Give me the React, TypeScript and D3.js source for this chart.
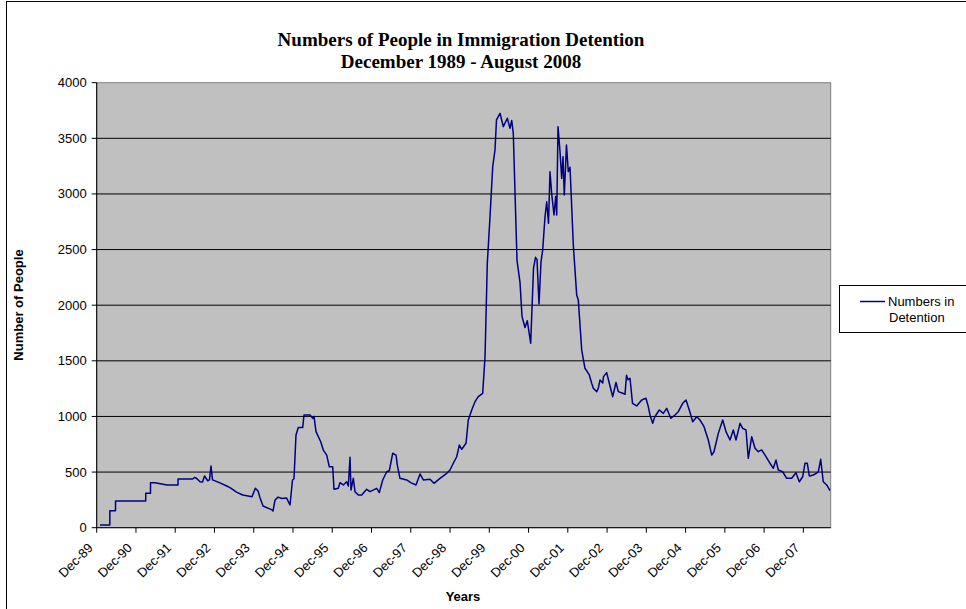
import * as d3 from 'd3';

// Weekly-ish detention counts (decimal year, people)
const years = [
  1990.001, 1990.251, 1990.252, 1990.396, 1990.397, 1991.165, 1991.166, 1991.287, 1991.288, 1991.402,
  1991.708, 1991.988, 1991.989, 1992.362, 1992.413, 1992.472, 1992.548, 1992.612, 1992.663, 1992.744,
  1992.790, 1992.828, 1992.867, 1993.040, 1993.228, 1993.312, 1993.478, 1993.636, 1993.873, 1993.957,
  1994.026, 1994.076, 1994.153, 1994.382, 1994.408, 1994.459, 1994.535, 1994.637, 1994.751, 1994.841,
  1994.904, 1994.942, 1994.993, 1995.052, 1995.164, 1995.197, 1995.350, 1995.419, 1995.452, 1995.503,
  1995.623, 1995.689, 1995.775, 1995.842, 1995.928, 1995.961, 1996.071, 1996.114, 1996.198, 1996.285,
  1996.326, 1996.369, 1996.394, 1996.453, 1996.496, 1996.580, 1996.667, 1996.794, 1996.878, 1997.049,
  1997.115, 1997.202, 1997.304, 1997.370, 1997.456, 1997.541, 1997.574, 1997.642, 1997.813, 1997.915,
  1998.050, 1998.152, 1998.236, 1998.407, 1998.508, 1998.661, 1998.832, 1998.916, 1999.000, 1999.087,
  1999.153, 1999.214, 1999.324, 1999.382, 1999.469, 1999.553, 1999.637, 1999.749, 1999.808, 1999.866,
  1999.935, 2000.004, 2000.062, 2000.100, 2000.190, 2000.274, 2000.376, 2000.444, 2000.488, 2000.528,
  2000.623, 2000.699, 2000.750, 2000.826, 2000.885, 2000.971, 2001.043, 2001.094, 2001.132, 2001.183,
  2001.234, 2001.277, 2001.336, 2001.379, 2001.425, 2001.463, 2001.509, 2001.565, 2001.608, 2001.634,
  2001.667, 2001.718, 2001.761, 2001.794, 2001.827, 2001.883, 2001.929, 2001.973, 2002.057, 2002.143,
  2002.184, 2002.271, 2002.354, 2002.464, 2002.525, 2002.566, 2002.653, 2002.693, 2002.737, 2002.805,
  2002.826, 2002.907, 2002.974, 2003.060, 2003.144, 2003.203, 2003.315, 2003.374, 2003.412, 2003.450,
  2003.501, 2003.565, 2003.671, 2003.799, 2003.908, 2003.967, 2004.010, 2004.079, 2004.125, 2004.163,
  2004.247, 2004.349, 2004.436, 2004.538, 2004.647, 2004.731, 2004.843, 2004.927, 2005.011, 2005.098,
  2005.200, 2005.284, 2005.386, 2005.495, 2005.582, 2005.640, 2005.750, 2005.862, 2005.946, 2006.048,
  2006.132, 2006.201, 2006.303, 2006.371, 2006.456, 2006.514, 2006.601, 2006.685, 2006.769, 2006.855,
  2006.965, 2007.067, 2007.151, 2007.220, 2007.278, 2007.390, 2007.492, 2007.619, 2007.729, 2007.813,
  2007.900, 2007.958, 2008.017, 2008.068, 2008.170, 2008.256, 2008.297, 2008.358, 2008.424, 2008.511,
  2008.595,
];

const people = [
  24, 24, 153, 153, 240, 240, 309, 309, 405, 405,
  384, 384, 438, 438, 453, 440, 413, 410, 465, 422,
  430, 555, 430, 405, 375, 360, 320, 294, 279, 355,
  330, 270, 195, 160, 150, 249, 275, 262, 268, 204,
  429, 440, 833, 900, 900, 1013, 1013, 983, 1000, 863,
  773, 698, 653, 548, 548, 345, 354, 405, 384, 413,
  375, 633, 339, 444, 324, 294, 294, 345, 324, 354,
  315, 429, 503, 512, 669, 653, 563, 444, 429, 405,
  384, 483, 429, 435, 399, 444, 489, 519, 579, 638,
  743, 705, 759, 968, 1058, 1133, 1178, 1208, 1537, 2376,
  2796, 3245, 3395, 3665, 3725, 3605, 3680, 3590, 3660, 3545,
  2400, 2205, 1900, 1800, 1860, 1658, 2330, 2430, 2410, 2010,
  2390, 2496, 2796, 2930, 2736, 3200, 2991, 2811, 2976, 2811,
  3605, 3380, 3140, 3335, 2991, 3440, 3200, 3240, 2541, 2091,
  2046, 1597, 1433, 1373, 1298, 1253, 1223, 1253, 1328, 1300,
  1358, 1394, 1298, 1178, 1305, 1223, 1208, 1200, 1370, 1330,
  1343, 1118, 1094, 1148, 1163, 1088, 1013, 938, 990, 1013,
  1058, 1028, 1073, 983, 1013, 1043, 1118, 1148, 1058, 953,
  998, 968, 908, 788, 653, 683, 848, 968, 863, 788,
  878, 788, 938, 893, 878, 624, 818, 714, 683, 700,
  638, 579, 534, 608, 519, 503, 444, 444, 494, 413,
  458, 579, 579, 465, 474, 490, 503, 615, 413, 384,
  333,
];

const tickLabels = [
  'Dec-89', 'Dec-90', 'Dec-91', 'Dec-92', 'Dec-93', 'Dec-94', 'Dec-95', 'Dec-96', 'Dec-97', 'Dec-98',
  'Dec-99', 'Dec-00', 'Dec-01', 'Dec-02', 'Dec-03', 'Dec-04', 'Dec-05', 'Dec-06', 'Dec-07',
];
const yTicks = [0, 500, 1000, 1500, 2000, 2500, 3000, 3500, 4000];

const LINE_COLOR = '#000080';
const PLOT_BG = '#C0C0C0';
const SANS = 'Arial, "Liberation Sans", sans-serif';
const SERIF = '"Times New Roman", "Liberation Serif", serif';

const W = 966;
const H = 609;
const plot = { left: 96.7, right: 830.7, top: 82.7, bottom: 527.7 };

export default function App() {
  const x = d3.scaleLinear()
    .domain([1989 + 11 / 12, 2008.613])
    .range([plot.left, plot.right]);
  const y = d3.scaleLinear().domain([0, 4000]).range([plot.bottom, plot.top]);

  const pts = years.map((yr, i) => [yr, people[i]] as [number, number]);
  const path = d3.line<[number, number]>()
    .x((d) => x(d[0]))
    .y((d) => y(d[1]))
    .curve(d3.curveLinear)(pts) ?? '';

  const tickYears = tickLabels.map((_, i) => 1989 + 11 / 12 + i);

  return (
    <svg
      width={W}
      height={H}
      style={{ position: 'absolute', left: 0, top: 0, display: 'block', background: '#fff' }}
    >
      {/* chart frame */}
      <rect x={6.5} y={1.5} width={1000} height={700} fill="#fff" stroke="#000" strokeWidth={1} />

      {/* title */}
      <text x={461} y={46} textAnchor="middle" fontFamily={SERIF} fontWeight="bold" fontSize={19}>
        Numbers of People in Immigration Detention
      </text>
      <text x={461} y={68} textAnchor="middle" fontFamily={SERIF} fontWeight="bold" fontSize={19}>
        December 1989 - August 2008
      </text>

      {/* plot area */}
      <rect
        x={plot.left}
        y={plot.top}
        width={plot.right - plot.left}
        height={plot.bottom - plot.top}
        fill={PLOT_BG}
        stroke="#808080"
        strokeWidth={1}
      />

      {/* gridlines */}
      {yTicks.slice(1, -1).map((t) => (
        <line key={`g${t}`} x1={plot.left} x2={plot.right} y1={y(t)} y2={y(t)} stroke="#000" strokeWidth={1} />
      ))}

      {/* series */}
      <path d={path} fill="none" stroke={LINE_COLOR} strokeWidth={1.5} strokeLinejoin="round" />

      {/* y axis */}
      <line x1={plot.left} x2={plot.left} y1={plot.top} y2={plot.bottom} stroke="#000" strokeWidth={1} />
      {yTicks.map((t) => (
        <g key={`y${t}`}>
          <line x1={plot.left - 5} x2={plot.left} y1={y(t)} y2={y(t)} stroke="#000" strokeWidth={1} />
          <text x={plot.left - 10} y={y(t) + 4.5} textAnchor="end" fontFamily={SANS} fontSize={13}>
            {t}
          </text>
        </g>
      ))}

      {/* x axis */}
      <line x1={plot.left} x2={plot.right} y1={plot.bottom} y2={plot.bottom} stroke="#000" strokeWidth={1} />
      {tickYears.map((t, i) => (
        <g key={`x${i}`}>
          <line x1={x(t)} x2={x(t)} y1={plot.bottom} y2={plot.bottom + 5} stroke="#000" strokeWidth={1} />
          <text
            transform={`translate(${x(t) - 3},${plot.bottom + 21}) rotate(-45)`}
            textAnchor="end"
            fontFamily={SANS}
            fontSize={13}
          >
            {tickLabels[i]}
          </text>
        </g>
      ))}

      {/* axis titles */}
      <text x={463} y={601} textAnchor="middle" fontFamily={SANS} fontWeight="bold" fontSize={13}>
        Years
      </text>
      <text
        transform="translate(23,305) rotate(-90)"
        textAnchor="middle"
        fontFamily={SANS}
        fontWeight="bold"
        fontSize={13}
      >
        Number of People
      </text>

      {/* legend */}
      <rect x={839.5} y={285.5} width={140} height={47} fill="#fff" stroke="#000" strokeWidth={1} />
      <line x1={860} x2={885} y1={301.5} y2={301.5} stroke={LINE_COLOR} strokeWidth={1.5} />
      <text x={888} y={306} fontFamily={SANS} fontSize={13}>Numbers in</text>
      <text x={889} y={322} fontFamily={SANS} fontSize={13}>Detention</text>
    </svg>
  );
}
